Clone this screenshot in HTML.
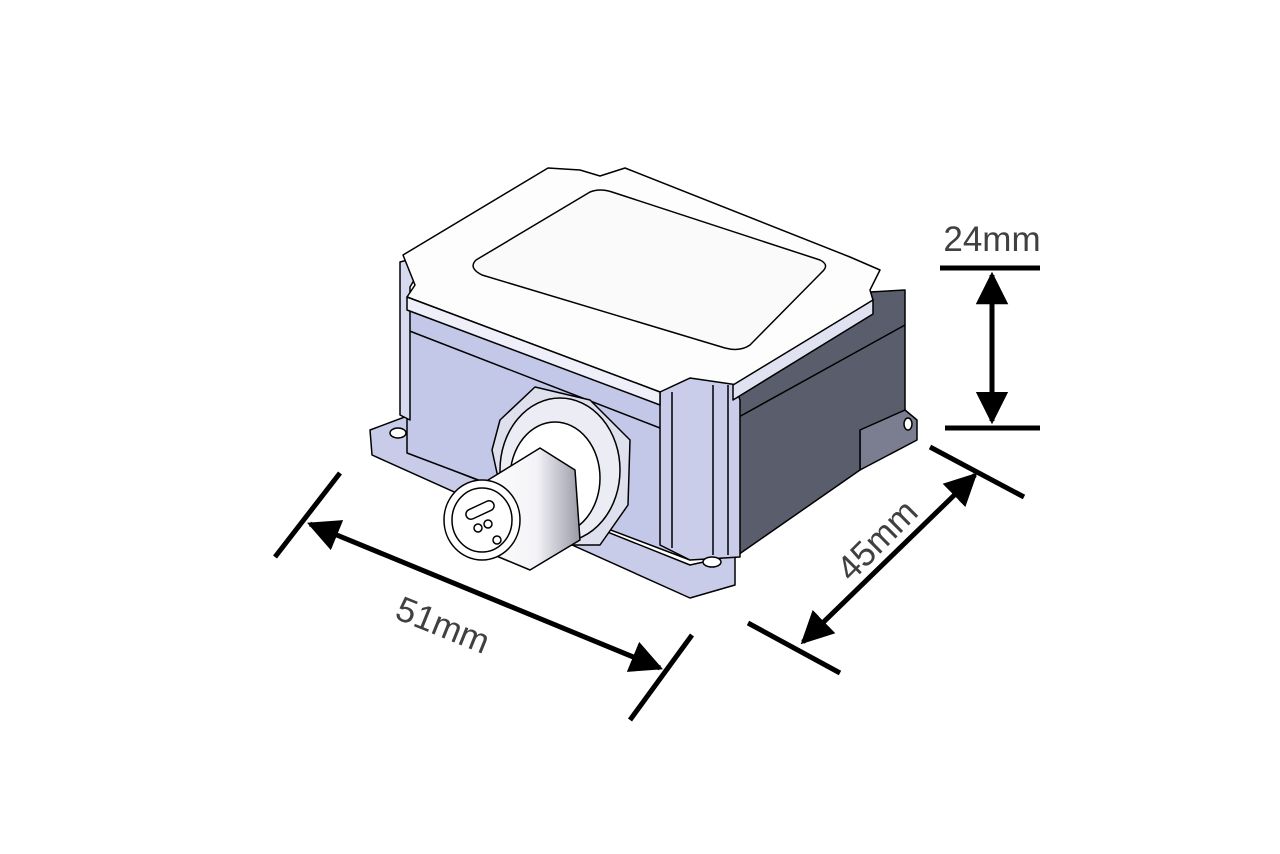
<!DOCTYPE html>
<html><head><style>html,body{margin:0;padding:0;background:#fff}svg{display:block}</style></head>
<body>
<svg width="1280" height="854" viewBox="0 0 1280 854" xmlns="http://www.w3.org/2000/svg">
<defs>
<marker id="ah" viewBox="0 0 10 10" refX="9" refY="5" markerWidth="6.5" markerHeight="6.5" orient="auto-start-reverse"><path d="M0,0 L10,5 L0,10 z" fill="#000"/></marker>
<linearGradient id="cyl" x1="0" x2="1" y1="0" y2="0"><stop offset="0" stop-color="#fff"/><stop offset="0.6" stop-color="#f4f4f8"/><stop offset="1" stop-color="#9a9aa8"/></linearGradient>
</defs>
<g stroke="#000" stroke-width="1.5" stroke-linejoin="round">
<polygon points="370,430 410,415 410,453 690,565 735,555 735,585 690,598 372,455" fill="#c9cce9"/>
<polygon points="860,427 905,410 917,420 917,440 860,470" fill="#7a7e90"/>
<polygon points="407,297 660,395 690,400 690,560 407,453" fill="#c4c8e8"/>
<polygon points="733,385 870,292 905,290 905,410 860,430 860,470 735,557" fill="#5a5e6c"/>
<line x1="407" y1="330" x2="660" y2="428" />
<line x1="737" y1="418" x2="905" y2="325" />
<polygon points="660,390 690,378 733,380 740,400 740,557 690,560 660,545" fill="#c9cdea"/>
<line x1="672" y1="392" x2="672" y2="548" />
<line x1="713" y1="385" x2="713" y2="555" />
<line x1="728" y1="385" x2="728" y2="555" />
<ellipse cx="712" cy="562" rx="9" ry="5" fill="#fff"/>
<ellipse cx="398" cy="433" rx="8" ry="5" fill="#fff"/>
<ellipse cx="908" cy="424" rx="4" ry="6" fill="#fff"/>
<polygon points="400,262 415,258 420,270 410,287 410,420 400,415" fill="#d8dbf0"/>
<polygon points="403,255 548,168 580,170 600,176 625,168 850,257 880,270 870,290 873,300 738,385 690,378 660,392 407,297 415,285" fill="#fdfdfd"/>
<polygon points="873,300 733,385 733,400 873,314" fill="#e0e2f2"/>
<polygon points="407,297 660,392 660,405 407,310" fill="#eeeff8"/>
<path d="M476,260 L590,192 Q600,188 612,192 L820,260 Q830,265 822,272 L750,345 Q740,352 725,348 L482,275 Q468,268 476,260 z" fill="#fafafa"/>
<polygon points="500,420 535,387 590,400 630,440 628,505 600,545 545,545 505,510 492,450" fill="#dfe0ee"/>
<ellipse cx="560" cy="470" rx="60" ry="72" fill="#ececf4"/>
<ellipse cx="555" cy="478" rx="45" ry="56" fill="#fff"/>
<polygon points="480,485 540,448 575,470 580,540 530,570 470,545" fill="url(#cyl)"/>
<ellipse cx="482" cy="520" rx="38" ry="40" fill="#fff"/>
<ellipse cx="482" cy="520" rx="30" ry="32" fill="#fff"/>
<rect x="465" y="505" width="30" height="10" rx="5" fill="#fff" transform="rotate(-25 480 510)"/>
<circle cx="478" cy="528" r="4" fill="#fff"/><circle cx="488" cy="524" r="4" fill="#fff"/><circle cx="497" cy="540" r="4" fill="#fff"/>
</g>
<g stroke="#000" stroke-width="5" fill="none">
<line x1="940" y1="268" x2="1040" y2="268"/>
<line x1="945" y1="428" x2="1040" y2="428"/>
<line x1="992" y1="275" x2="992" y2="421" marker-start="url(#ah)" marker-end="url(#ah)"/>
<line x1="275" y1="557" x2="340" y2="473"/>
<line x1="630" y1="720" x2="692" y2="635"/>
<line x1="310" y1="524" x2="660" y2="668" marker-start="url(#ah)" marker-end="url(#ah)"/>
<line x1="930" y1="447" x2="1024" y2="497"/>
<line x1="748" y1="623" x2="840" y2="673"/>
<line x1="803" y1="642" x2="975" y2="475" marker-start="url(#ah)" marker-end="url(#ah)"/>
</g>
<g font-family="Liberation Sans, sans-serif" font-size="35" fill="#404040" text-anchor="middle">
<text x="992" y="251">24mm</text>
<text x="443" y="637" transform="rotate(22 443 625)">51mm</text>
<text x="877" y="552" transform="rotate(-45 877 540)">45mm</text>
</g>
</svg>
</body></html>
